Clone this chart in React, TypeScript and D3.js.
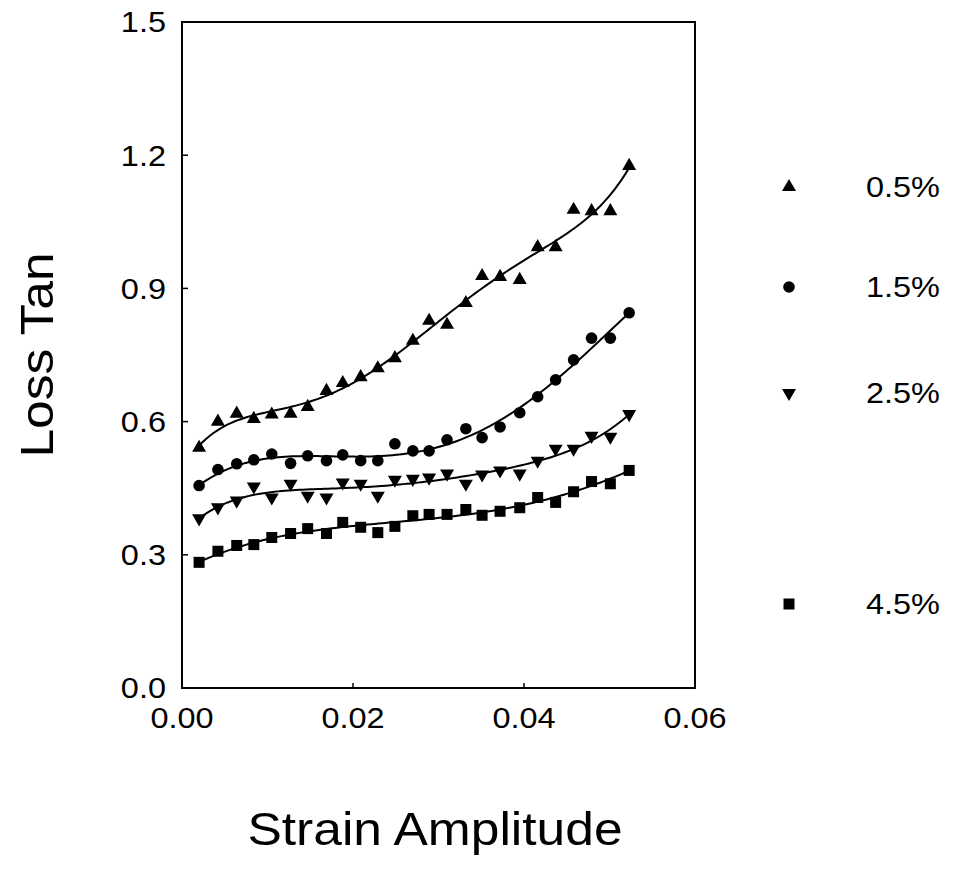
import React from 'react';
import * as d3 from 'd3';

const strain = [0.0020, 0.0042, 0.0064, 0.0084, 0.0105, 0.0127, 0.0147, 0.0169, 0.0188, 0.0209, 0.0229, 0.0249, 0.0270, 0.0289, 0.0310, 0.0332, 0.0351, 0.0372, 0.0395, 0.0416, 0.0437, 0.0458, 0.0479, 0.0501, 0.0523];

const s05 = [0.541, 0.600, 0.618, 0.606, 0.616, 0.618, 0.633, 0.669, 0.687, 0.700, 0.720, 0.743, 0.782, 0.827, 0.818, 0.867, 0.928, 0.926, 0.919, 0.993, 0.993, 1.077, 1.074, 1.074, 1.176];
const s15 = [0.456, 0.492, 0.505, 0.514, 0.527, 0.506, 0.523, 0.512, 0.525, 0.512, 0.512, 0.550, 0.534, 0.534, 0.559, 0.584, 0.564, 0.588, 0.620, 0.656, 0.694, 0.739, 0.788, 0.788, 0.845];
const s25 = [0.382, 0.407, 0.422, 0.454, 0.429, 0.460, 0.433, 0.429, 0.463, 0.460, 0.433, 0.469, 0.471, 0.474, 0.483, 0.460, 0.481, 0.490, 0.483, 0.512, 0.539, 0.539, 0.568, 0.566, 0.617];
const s45 = [0.283, 0.308, 0.321, 0.323, 0.339, 0.348, 0.359, 0.348, 0.373, 0.362, 0.350, 0.364, 0.388, 0.391, 0.391, 0.402, 0.389, 0.398, 0.406, 0.429, 0.418, 0.442, 0.465, 0.460, 0.490];

const seriesNames = ['0.5%', '1.5%', '2.5%', '4.5%'];
const seriesValues = [s05, s15, s25, s45];
const seriesSymbols = ['up', 'circle', 'down', 'square'];
const fitDegree = [5, 5, 5, 4];
const endWeight = [3, 10, 10, 10];

const xTicks = [0, 0.02, 0.04, 0.06];
const xTickLabels = ['0.00', '0.02', '0.04', '0.06'];
const yTicks = [0, 0.3, 0.6, 0.9, 1.2, 1.5];
const yTickLabels = ['0.0', '0.3', '0.6', '0.9', '1.2', '1.5'];

function polyfit(xs: number[], ys: number[], deg: number, ew: number) {
  const n = deg + 1;
  const A: number[][] = Array.from({ length: n }, () => new Array(n + 1).fill(0));
  xs.forEach((x, k) => {
    const t = (x - 0.027) / 0.025;
    const w = k === 0 || k === xs.length - 1 ? ew : 1;
    for (let i = 0; i < n; i++) {
      for (let j = 0; j < n; j++) A[i][j] += w * Math.pow(t, i + j);
      A[i][n] += w * Math.pow(t, i) * ys[k];
    }
  });
  for (let i = 0; i < n; i++) {
    let p = i;
    for (let r = i + 1; r < n; r++) if (Math.abs(A[r][i]) > Math.abs(A[p][i])) p = r;
    [A[i], A[p]] = [A[p], A[i]];
    for (let r = 0; r < n; r++) {
      if (r === i) continue;
      const f = A[r][i] / A[i][i];
      for (let c = i; c <= n; c++) A[r][c] -= f * A[i][c];
    }
  }
  const coef = A.map((row, i) => row[n] / row[i]);
  return (x: number) => {
    const t = (x - 0.027) / 0.025;
    return coef.reduce((s, c, i) => s + c * Math.pow(t, i), 0);
  };
}

const L = 182, R = 695, T = 22, B = 688;
const SX = 1.12;

function Marker({ kind, x, y }: { kind: string; x: number; y: number }) {
  if (kind === 'circle') return <circle cx={x} cy={y} r={5.8} fill="#000" />;
  if (kind === 'square') return <rect x={x - 5.5} y={y - 5.5} width={11} height={11} fill="#000" />;
  const path = d3.symbol().type(d3.symbolTriangle).size(85)() as string;
  return <path d={path} transform={`translate(${x},${y})${kind === 'down' ? ' rotate(180)' : ''}`} fill="#000" />;
}

function T2({ x, y, anchor, size, rotate, children }: { x: number; y: number; anchor?: string; size: number; rotate?: number; children: React.ReactNode }) {
  return (
    <g transform={`translate(${x},${y})${rotate ? ` rotate(${rotate})` : ''} scale(${SX},1)`}>
      <text x={0} y={0} dy="0.36em" textAnchor={anchor || 'start'} fontFamily="Liberation Sans, Arial, Helvetica, sans-serif" fontSize={size}>{children}</text>
    </g>
  );
}

export default function App() {
  const x = d3.scaleLinear().domain([0, 0.06]).range([L, R]);
  const y = d3.scaleLinear().domain([0, 1.5]).range([B, T]);
  const x0 = strain[0], x1 = strain[strain.length - 1];
  const samples = d3.range(0, 121).map(i => x0 + (x1 - x0) * i / 120);
  const legendY = [187, 287, 393, 604];
  return (
    <div style={{ position: 'absolute', left: 0, top: 0 }}>
      <svg width={960} height={872} style={{ display: 'block', background: '#fff' }}>
        <rect x={L} y={T} width={R - L} height={B - T} fill="none" stroke="#000" strokeWidth={2} />
        {yTicks.map((t, i) => (
          <g key={'y' + i}>
            {i > 0 && i < yTicks.length - 1 && <line x1={L} x2={L + 6} y1={y(t)} y2={y(t)} stroke="#000" strokeWidth={1.5} />}
            <T2 x={166} y={y(t)} anchor="end" size={29}>{yTickLabels[i]}</T2>
          </g>
        ))}
        {xTicks.map((t, i) => (
          <g key={'x' + i}>
            {i > 0 && i < xTicks.length - 1 && <line x1={x(t)} x2={x(t)} y1={B} y2={B - 5} stroke="#000" strokeWidth={1.5} />}
            <T2 x={x(t)} y={718} anchor="middle" size={29}>{xTickLabels[i]}</T2>
          </g>
        ))}
        {seriesValues.map((vals, si) => {
          const f = polyfit(strain, vals, fitDegree[si], endWeight[si]);
          const d = d3.line<number>().x(v => x(v)).y(v => y(f(v)))(samples) as string;
          return (
            <g key={'s' + si}>
              <path d={d} fill="none" stroke="#000" strokeWidth={2} />
              {vals.map((v, k) => <Marker key={k} kind={seriesSymbols[si]} x={x(strain[k])} y={y(v)} />)}
            </g>
          );
        })}
        {seriesNames.map((n, i) => (
          <g key={'l' + i}>
            <Marker kind={seriesSymbols[i]} x={789} y={legendY[i]} />
            <T2 x={866} y={legendY[i]} size={29}>{n}</T2>
          </g>
        ))}
        <T2 x={36} y={355} anchor="middle" size={46} rotate={-90}>Loss Tan</T2>
        <T2 x={435} y={828} anchor="middle" size={46}>Strain Amplitude</T2>
      </svg>
    </div>
  );
}
